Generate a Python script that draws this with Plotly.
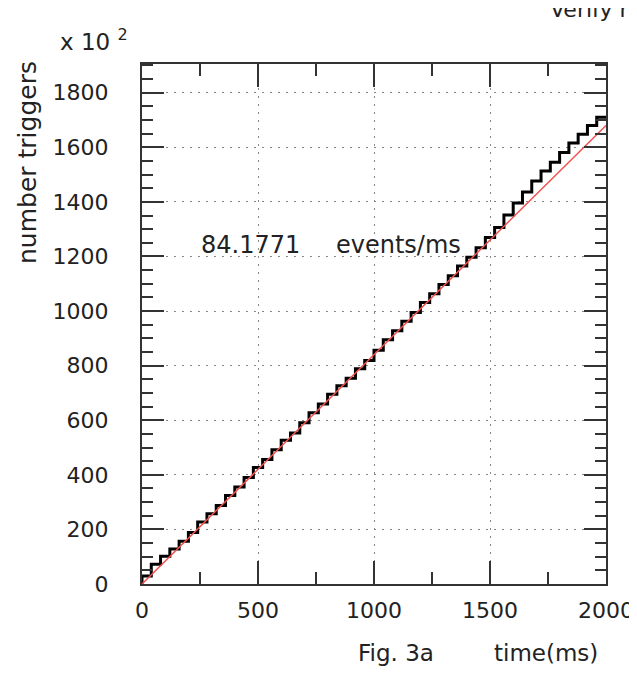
import plotly.graph_objects as go

# ---- data (counts in units of 10^2) ----
bin_edges_ms = [0, 40, 80, 120, 160, 200, 240, 280, 320, 360, 400, 440, 480, 520, 560, 600,
                640, 680, 720, 760, 800, 840, 880, 920, 960, 1000, 1040, 1080, 1120, 1160,
                1200, 1240, 1280, 1320, 1360, 1400, 1440, 1480, 1520, 1560, 1600, 1640,
                1680, 1720, 1760, 1800, 1840, 1880, 1920, 1960, 2000]
cumulative_triggers = [29, 72, 102, 128, 157, 189, 227, 257, 288, 324, 355, 390, 427, 456,
                       492, 527, 553, 591, 627, 659, 695, 726, 754, 789, 819, 856, 895, 928,
                       963, 995, 1031, 1063, 1097, 1129, 1165, 1197, 1232, 1269, 1306, 1352,
                       1396, 1436, 1476, 1513, 1545, 1581, 1616, 1648, 1680, 1710]
fit_x = [0, 2000]
fit_y = [0, 1680]
rate_text = "84.1771"
x_ticks = [0, 500, 1000, 1500, 2000]
y_ticks = [0, 200, 400, 600, 800, 1000, 1200, 1400, 1600, 1800]

# ---- geometry helpers (target pixel positions in the window) ----
W, H = 637, 673
OFF = 8  # the page body offsets the figure by 8px
L, R, T, B = 142, 606, 64, 584
def px_x(p):
    return (p - L) / (R - L)
def px_y(p):
    return (B - p) / (B - T)

FONT = "DejaVu Sans"

step_x = [0] + bin_edges_ms
step_y = [0] + cumulative_triggers + [cumulative_triggers[-1]]

fig = go.Figure()
fig.add_trace(go.Scatter(x=step_x, y=step_y, mode="lines", line_shape="hv",
                         line=dict(color="black", width=3), hoverinfo="skip",
                         showlegend=False))
fig.add_trace(go.Scatter(x=fit_x, y=fit_y, mode="lines",
                         line=dict(color="rgb(240,80,80)", width=1.5),
                         showlegend=False))

axis_common = dict(
    showline=True, linecolor="#333", linewidth=2, mirror="allticks",
    ticks="inside", tickcolor="#333", tickwidth=1.5,
    showgrid=True, gridcolor="#888", gridwidth=1, griddash="2px,6px",
    zeroline=False, automargin=False,
    tickfont=dict(family=FONT, size=22, color="#222"),
)

fig.update_xaxes(range=[0, 2000], tickvals=x_ticks, ticklen=23,
                 minor=dict(dtick=250, tick0=0, ticks="inside", ticklen=12,
                            tickcolor="#333", tickwidth=1.5, showgrid=False),
                 ticklabelstandoff=6, **axis_common)
fig.update_yaxes(range=[0, 1905], tickvals=y_ticks, ticklen=22,
                 minor=dict(dtick=50, tick0=0, ticks="inside", ticklen=11,
                            tickcolor="#333", tickwidth=1.5, showgrid=False),
                 ticklabelstandoff=27, **axis_common)

ann_font = dict(family=FONT, size=24, color="#222")
annotations = [
    dict(text="x 10 <sup>2</sup>", x=px_x(58), y=px_y(40), xanchor="left", yanchor="middle",
         font=dict(family=FONT, size=23, color="#222")),
    dict(text="number triggers", x=px_x(27), y=px_y(163), textangle=-90,
         xanchor="center", yanchor="middle", font=dict(family=FONT, size=25, color="#222")),
    dict(text=rate_text, x=px_x(199), y=px_y(245), xanchor="left", yanchor="middle", font=ann_font),
    dict(text="events/ms", x=px_x(334), y=px_y(245), xanchor="left", yanchor="middle", font=ann_font),
    dict(text="Fig. 3a", x=px_x(356), y=px_y(653), xanchor="left", yanchor="middle",
         font=dict(family=FONT, size=23, color="#222")),
    dict(text="time(ms)", x=px_x(492), y=px_y(653), xanchor="left", yanchor="middle",
         font=dict(family=FONT, size=23, color="#222")),
    dict(text="Verify r", x=px_x(548), y=px_y(10), xanchor="left", yanchor="middle",
         font=dict(family=FONT, size=22, color="#222")),
]
for a in annotations:
    a.update(xref="paper", yref="paper", showarrow=False)

fig.update_layout(
    width=W, height=H,
    margin=dict(l=L - OFF, r=W - (R - OFF), t=T - OFF, b=H - (B - OFF), pad=0, autoexpand=False),
    paper_bgcolor="white", plot_bgcolor="white",
    annotations=annotations,
    showlegend=False,
)

fig.write_html("out.html")
